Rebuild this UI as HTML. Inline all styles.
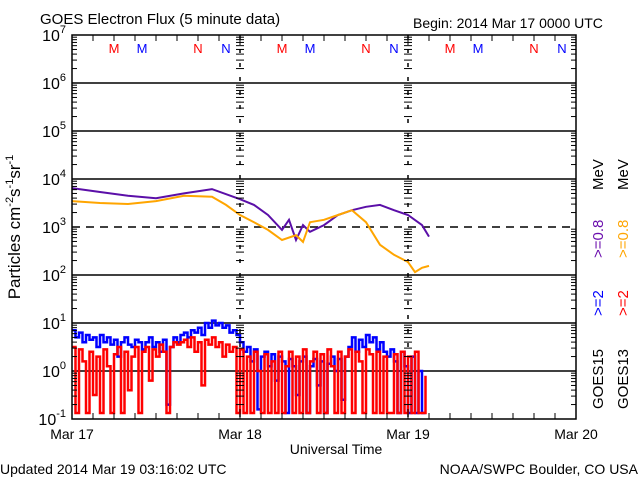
<!DOCTYPE html>
<html><head><meta charset="utf-8"><style>
body{margin:0;background:#fff}
svg text{font-family:"Liberation Sans",sans-serif}
</style></head><body>
<svg id="chart" width="640" height="480" viewBox="0 0 640 480" xmlns="http://www.w3.org/2000/svg">
<rect width="640" height="480" fill="#fff"/>
<text x="40" y="24" font-size="15">GOES Electron Flux (5 minute data)</text>
<text x="413" y="28" font-size="14">Begin: 2014 Mar 17 0000 UTC</text>
<text x="0" y="474" font-size="14">Updated 2014 Mar 19 03:16:02 UTC</text>
<text x="638" y="474" font-size="14" text-anchor="end">NOAA/SWPC Boulder, CO USA</text>
<text x="336" y="454" font-size="14" text-anchor="middle">Universal Time</text>
<text transform="translate(20,227) rotate(-90)" font-size="17" text-anchor="middle">Particles cm<tspan dy="-7" font-size="11">-2</tspan><tspan dy="7">s</tspan><tspan dy="-7" font-size="11">-1</tspan><tspan dy="7">sr</tspan><tspan dy="-7" font-size="11">-1</tspan></text>
<g id="grid"></g>
<g id="series"></g>
<g id="axes"></g>
<g id="legend" font-size="15">
<text transform="translate(603,190) rotate(-90)">MeV</text>
<text transform="translate(603,258) rotate(-90)" fill="#6a0dad">&gt;=0.8</text>
<text transform="translate(603,316) rotate(-90)" fill="#0000ff">&gt;=2</text>
<text transform="translate(603,409) rotate(-90)">GOES15</text>
<text transform="translate(628,190) rotate(-90)">MeV</text>
<text transform="translate(628,258) rotate(-90)" fill="#ffa500">&gt;=0.8</text>
<text transform="translate(628,316) rotate(-90)" fill="#ff0000">&gt;=2</text>
<text transform="translate(628,409) rotate(-90)">GOES13</text>
</g>
</svg>
<script>
const dayLabels=["Mar 17","Mar 18","Mar 19","Mar 20"];
const decadeExps=[-1,0,1,2,3,4,5,6,7];
const markerLetters=["M","M","N","N"];
const markerHours=[6,10,18,22];
const markerColors=["#ff0000","#0000ff","#ff0000","#0000ff"];
const purpleHours=[0,4,8,12,16,20,24,26,28,30,31,32,33,34,36,38,40,42,44,46,48,50,51];
const purpleLog=[3.81,3.73,3.65,3.6,3.7,3.79,3.58,3.46,3.25,2.94,3.15,2.73,3.04,2.9,3.04,3.25,3.35,3.42,3.46,3.35,3.25,3.04,2.8];
const orangeHours=[0,4,8,12,16,20,22,24,26,28,30,32,33,34,36,38,40,42,44,46,48,49,50,51];
const orangeLog=[3.54,3.5,3.48,3.54,3.65,3.63,3.46,3.25,3.1,2.94,2.73,2.83,2.69,3.1,3.15,3.25,3.35,3.1,2.63,2.42,2.27,2.06,2.15,2.19];
const blueLog=[0.85,0.7,0.8,0.6,0.75,0.65,0.7,0.5,0.75,0.6,0.7,0.55,0.65,0.3,0.6,0.7,0.55,0.5,0.65,0.6,0.45,0.6,0.7,0.5,0.6,0.4,0.65,-0.7,0.5,0.7,
0.6,0.75,0.8,0.7,0.85,0.8,0.9,0.75,1.0,0.9,1.05,0.95,1.0,0.9,0.95,0.8,0.85,0.75,
0.6,0.4,0.5,0.2,0.45,-0.8,0.3,0.4,0.1,0.35,-0.2,0.3,0.2,-0.9,0.25,0.1,-0.5,0.2,0.3,-0.9,0.1,0.25,-0.3,0.2,-0.9,0.15,0.3,0.0,0.25,-0.6,0.3,0.5,
0.7,0.4,0.65,0.5,0.75,0.6,0.7,0.45,0.6,0.4,0.3,0.45,0.2,-0.9,0.4,0.1,-0.9,0.3,-0.9,0.0,-0.9,-0.9];
const redLog=[0.5,-0.9,0.45,0.2,-0.9,0.4,-0.5,0.3,-0.9,0.45,0.1,-0.9,0.35,0.5,-0.9,0.4,-0.4,0.3,0.5,-0.9,0.4,0.5,-0.2,0.45,0.3,0.55,0.4,-0.9,0.5,0.6,
0.55,0.6,0.65,0.5,0.7,0.4,0.6,-0.3,0.65,0.55,0.7,0.5,0.6,0.3,0.55,0.4,0.5,-0.9,
0.45,-0.9,0.3,-0.9,0.4,0.0,-0.9,0.35,-0.9,0.2,-0.9,0.4,-0.9,0.1,0.4,-0.9,0.3,-0.9,0.45,-0.9,0.2,0.4,-0.9,0.35,-0.9,0.45,0.1,-0.9,0.4,-0.9,0.3,0.45,
-0.9,0.4,0.2,-0.9,0.45,0.35,-0.9,0.4,-0.9,0.3,-0.9,-0.9,0.35,-0.9,0.4,-0.9,0.3,-0.9,0.4,-0.9,-0.9,-0.1];
const halfHourStep=0.5;

const NS="http://www.w3.org/2000/svg";
const L=72,R=576,T=35,B=419;
const xH=h=>L+(R-L)*h/72;
const yL=v=>B-(B-T)*(v+1)/8;
const floorY=413;
function mk(tag,attrs,parent){const e=document.createElementNS(NS,tag);for(const k in attrs)e.setAttribute(k,attrs[k]);parent.appendChild(e);return e;}
const grid=document.getElementById('grid'),axes=document.getElementById('axes'),ser=document.getElementById('series');

decadeExps.forEach(e=>{
  const y=yL(e);
  if(e>-1&&e<7){
    const ln=mk('line',{x1:L,x2:R,y1:y,y2:y,stroke:'#000','stroke-width':1.5},grid);
    if(e===3){ln.setAttribute('stroke-dasharray','8,6');}
    
    
  }
  const t=mk('text',{x:L-6,y:y+6,'font-size':16,'text-anchor':'end'},axes);
  t.innerHTML='10<tspan dy="-8" font-size="11">'+e+'</tspan>';
  
  
  if(e<7){for(let m=2;m<=9;m++){const yy=yL(e+Math.log10(m));
    [[L,L+5],[R-5,R],[xH(24)-4,xH(24)+4],[xH(48)-4,xH(48)+4]].forEach(p=>mk('line',{x1:p[0],x2:p[1],y1:yy,y2:yy,stroke:'#000','stroke-width':1},axes));}}
});
[24,48].forEach(h=>{
  const v=mk('line',{x1:xH(h),x2:xH(h),y1:T,y2:B,stroke:'#000','stroke-width':1.5,'stroke-dasharray':'4,10'},grid);
  
  
});
for(let d=0;d<3;d++)markerLetters.forEach((s,i)=>{
  const t=mk('text',{x:xH(d*24+markerHours[i]),y:53,'font-size':13,fill:markerColors[i],'text-anchor':'middle'},grid);
  t.textContent=s;
  
  
});
function path(xs,ys,color,name,w,step){
  let d='';xs.forEach((x,i)=>{
    if(!i)d+='M'+x.toFixed(1)+','+ys[i].toFixed(1);
    else if(step)d+='L'+x.toFixed(1)+','+ys[i-1].toFixed(1)+'L'+x.toFixed(1)+','+ys[i].toFixed(1);
    else d+='L'+x.toFixed(1)+','+ys[i].toFixed(1);});
  const p=mk('path',{d:d,fill:'none',stroke:color,'stroke-width':w},ser);
  
  
}
const cl=v=>Math.min(floorY,yL(v));
path(blueLog.map((v,i)=>xH(i*halfHourStep)),blueLog.map(cl),'#0000ff','series-goes15-2mev',2.5,true);
path(redLog.map((v,i)=>xH(i*halfHourStep)),redLog.map(cl),'#ff0000','series-goes13-2mev',2.5,true);
path(purpleHours.map(xH),purpleLog.map(yL),'#5b0fa8','series-goes15-08mev',2,false);
path(orangeHours.map(xH),orangeLog.map(yL),'#ffa500','series-goes13-08mev',2,false);

const fr=mk('rect',{x:L,y:T,width:R-L,height:B-T,fill:'none',stroke:'#000','stroke-width':1.5},axes);


for(let h=0;h<=72;h+=3){const x=xH(h),len=h%24===0?10:6;
  mk('line',{x1:x,x2:x,y1:B,y2:B-len,stroke:'#000','stroke-width':1},axes);
  mk('line',{x1:x,x2:x,y1:T,y2:T+len,stroke:'#000','stroke-width':1},axes);}
dayLabels.forEach((s,i)=>{
  const t=mk('text',{x:xH(i*24),y:439,'font-size':14,'text-anchor':'middle'},axes);
  t.textContent=s;
  
  
});
</script>
</body></html>
